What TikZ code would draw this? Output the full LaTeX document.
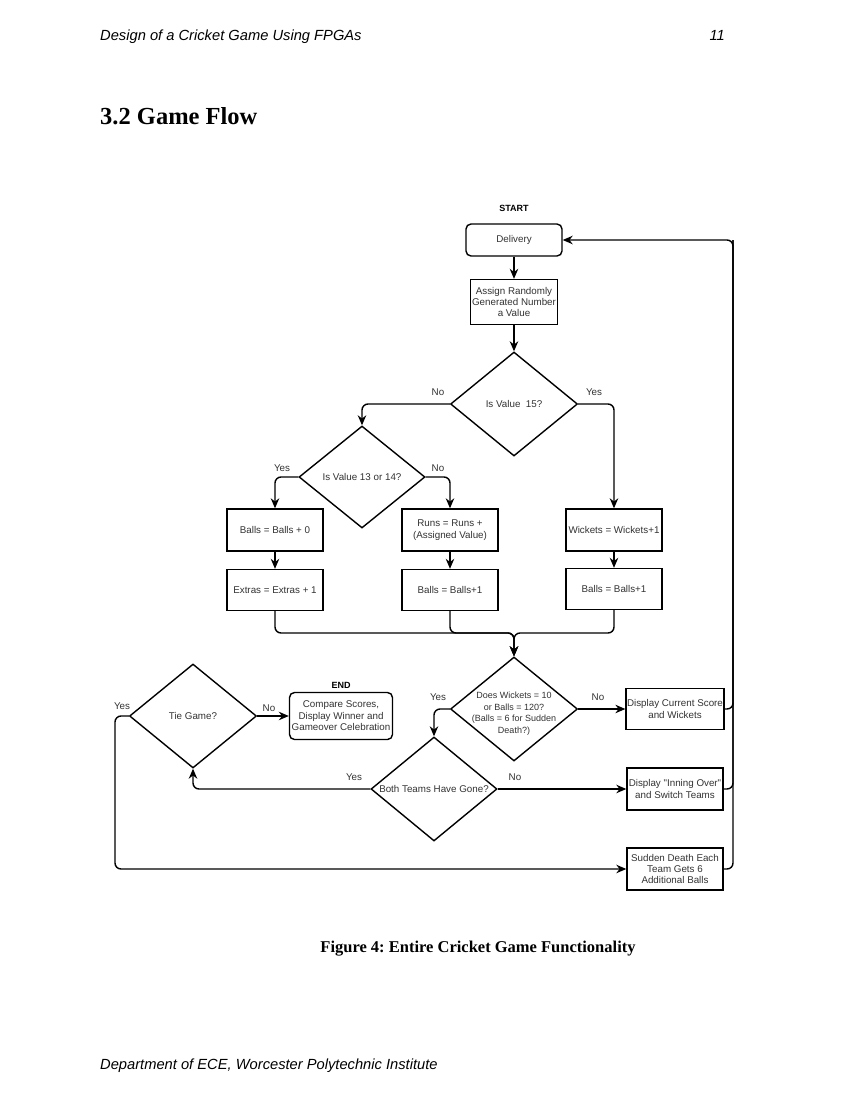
\documentclass[tikz,border=0pt]{standalone}
\usepackage{fontspec}
\setmainfont{Liberation Serif}
\newfontfamily\arial{Liberation Sans}
\usetikzlibrary{shapes.geometric,arrows.meta}
\definecolor{txtgray}{HTML}{333333}
\frenchspacing
\newcommand{\chartfont}{\arial\fontsize{9.8}{11.4}\selectfont}
\tikzset{
 proc/.style={draw,line width=1.4pt,minimum width=96pt,minimum height=42pt,inner sep=1pt,align=center,font=\chartfont,text=txtgray},
 term/.style={proc,rounded corners=5pt},
 test/.style={diamond,draw,line width=1.4pt,aspect=1.22,minimum width=127pt,minimum height=104pt,inner sep=-4pt,align=center,font=\chartfont,text=txtgray},
 ans/.style={font=\chartfont,text=txtgray,inner sep=1pt},
 tag/.style={font=\arial\bfseries\fontsize{9}{10}\selectfont,inner sep=1pt},
 flow/.style={line width=1.4pt,rounded corners=6pt,-{Stealth[length=10pt,width=8.5pt]}},
 link/.style={line width=1.4pt,rounded corners=6pt},
}
\begin{document}
\begin{tikzpicture}[x=1pt,y=-1pt]
 \fill[white] (0,0) rectangle (850,1100);
 \node[anchor=base west,font=\arial\itshape\fontsize{14.7}{17}\selectfont,inner sep=0pt] (head) at (100,40) {Design of a Cricket Game Using FPGAs};
 \node[anchor=base east,font=\arial\itshape\fontsize{14.7}{17}\selectfont,inner sep=0pt] (page) at (725,40) {11};
 \node[anchor=base west,font=\bfseries\fontsize{24.5}{28}\selectfont,inner sep=0pt] (sec) at (100,124) {3.2 Game Flow};
 \node[anchor=base,font=\bfseries\fontsize{16.5}{19}\selectfont,inner sep=0pt] (cap) at (478,952) {Figure 4: Entire Cricket Game Functionality};
 \node[anchor=base west,font=\arial\itshape\fontsize{14.7}{17}\selectfont,inner sep=0pt] (foot) at (100,1069) {Department of ECE, Worcester Polytechnic Institute};

 \node[tag] (start) at (514,208) {START};
 \node[term,minimum height=32pt] (deliv) at (514,240) {Delivery};
 \node[proc,minimum width=87pt,minimum height=45pt] (assign) at (514,302) {Assign Randomly\\Generated Number\\a Value};
 \node[test] (q15) at (514,404) {Is Value\ \ 15?};
 \node[test,minimum width=126pt,minimum height=102pt] (q13) at (362,477) {Is Value 13 or 14?};
 \node[proc] (bzero) at (275,530) {Balls = Balls + 0};
 \node[proc] (runs) at (450,530) {Runs = Runs +\\(Assigned Value)};
 \node[proc] (wick) at (614,530) {Wickets = Wickets+1};
 \node[proc,minimum height=41pt] (extras) at (275,590) {Extras = Extras + 1};
 \node[proc,minimum height=41pt] (bmid) at (450,590) {Balls = Balls+1};
 \node[proc,minimum height=41pt] (bright) at (614,589) {Balls = Balls+1};
 \coordinate (merge) at (514,633);
 \node[test,inner sep=-8pt,font=\arial\fontsize{9}{11.4}\selectfont] (over) at (514,709) {\rule{0pt}{16pt}Does Wickets = 10\\or Balls = 120?\\(Balls = 6 for Sudden\\Death?)};
 \node[proc,minimum height=41pt] (score) at (675,709) {Display Current Score\\and Wickets};
 \node[test,minimum width=126pt] (both) at (434,789) {Both Teams Have Gone?};
 \node[proc] (inning) at (675,789) {Display "Inning Over"\\and Switch Teams};
 \node[test] (tie) at (193,716) {Tie Game?};
 \node[term,minimum width=103pt,minimum height=47pt] (final) at (341,716) {Compare Scores,\\Display Winner and\\Gameover Celebration};
 \node[tag] (end) at (341,685) {END};
 \node[proc] (sudden) at (675,869) {Sudden Death Each\\Team Gets 6\\Additional Balls};
 \coordinate (back) at (733,240);
 \coordinate (tieturn) at (115,869);

 \node[ans] (q15no) at (438,392) {No};
 \node[ans] (q15yes) at (594,392) {Yes};
 \node[ans] (q13yes) at (282,468) {Yes};
 \node[ans] (q13no) at (438,468) {No};
 \node[ans] (overyes) at (438,697) {Yes};
 \node[ans] (overno) at (598,697) {No};
 \node[ans] (bothyes) at (354,777) {Yes};
 \node[ans] (bothno) at (515,777) {No};
 \node[ans] (tieyes) at (122,706) {Yes};
 \node[ans] (tieno) at (269,708) {No};

 \draw[flow] (deliv) -- (assign);
 \draw[flow] (assign) -- (q15);
 \draw[flow] (q15.west) -| (q13.north);
 \draw[flow] (q15.east) -| (wick.north);
 \draw[flow] (q13.west) -| (bzero.north);
 \draw[flow] (q13.east) -| (runs.north);
 \draw[flow] (bzero) -- (extras);
 \draw[flow] (runs) -- (bmid);
 \draw[flow] (wick) -- (bright);
 \draw[flow] (extras.south) |- (merge) -- (over.north);
 \draw[flow] (bmid.south) |- (merge) -- (over.north);
 \draw[flow] (bright.south) |- (merge) -- (over.north);
 \draw[flow] (over.east) -- (score.west);
 \draw[flow] (over.west) -| (both.north);
 \draw[flow] (both.east) -- (inning.west);
 \draw[flow] (both.west) -| (tie.south);
 \draw[flow] (tie.east) -- (final.west);
 \draw[flow] (tie.west) -| (tieturn) -- (sudden.west);
 \draw[flow] (score.east) -| (back) -- (deliv.east);
 \draw[link] (inning.east) -| (back);
 \draw[link] (sudden.east) -| (back);
\end{tikzpicture}
\end{document}
